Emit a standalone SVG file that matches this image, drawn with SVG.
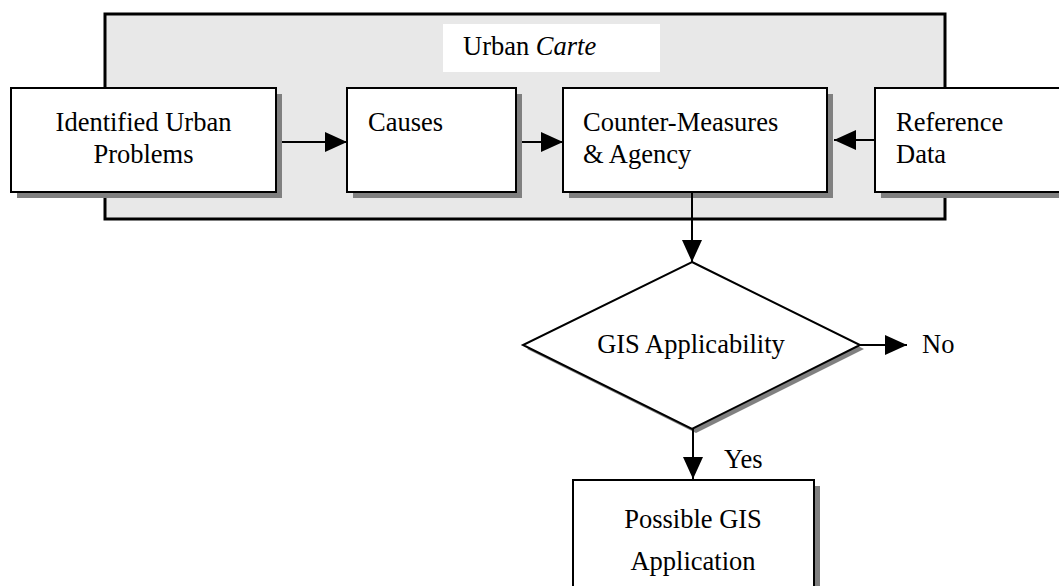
<svg xmlns="http://www.w3.org/2000/svg" width="1059" height="586" viewBox="0 0 1059 586">
<style>
text{font-family:"Liberation Serif","Times New Roman",serif;font-size:26.5px;fill:#000}
.box{fill:#fff;stroke:#000;stroke-width:2}
.sh{fill:#808080}
.ln{stroke:#000;stroke-width:2;fill:none}
</style>
<defs>
<marker id="ah" viewBox="0 0 22 20" refX="22" refY="10" markerWidth="22" markerHeight="20" markerUnits="userSpaceOnUse" orient="auto">
<path d="M0,0 L22,10 L0,20 Z" fill="#000"/>
</marker>
</defs>
<rect x="0" y="0" width="1059" height="586" fill="#fff"/>
<g id="container">
<rect x="105" y="14" width="840" height="205" fill="#e8e8e8" stroke="#000" stroke-width="3"/>
<rect x="443" y="24" width="217" height="48" fill="#fff"/>
<text x="463" y="55">Urban <tspan font-style="italic">Carte</tspan></text>
</g>
<g id="n1">
<rect class="sh" x="17" y="94" width="265" height="104"/>
<rect class="box" x="11" y="88" width="265" height="104"/>
<text x="143.5" y="131" text-anchor="middle">Identified Urban</text>
<text x="143.5" y="163" text-anchor="middle">Problems</text>
</g>
<g id="n2">
<rect class="sh" x="353" y="94" width="169" height="104"/>
<rect class="box" x="347" y="88" width="169" height="104"/>
<text x="368" y="131">Causes</text>
</g>
<g id="n3">
<rect class="sh" x="569" y="94" width="264" height="104"/>
<rect class="box" x="563" y="88" width="264" height="104"/>
<text x="583" y="131">Counter-Measures</text>
<text x="583" y="163">&amp; Agency</text>
</g>
<g id="n4">
<rect class="sh" x="881" y="94" width="190" height="104"/>
<rect class="box" x="875" y="88" width="190" height="104"/>
<text x="896" y="131">Reference</text>
<text x="896" y="163">Data</text>
</g>
<g id="n5">
<polygon points="696,266 864,349 696,433 527,349" fill="#808080"/>
<polygon points="692,262 860,345 692,429 523,345" fill="#fff" stroke="#000" stroke-width="2"/>
<text x="691" y="353" text-anchor="middle">GIS Applicability</text>
</g>
<g id="n6">
<rect class="sh" x="579" y="486" width="241" height="110"/>
<rect class="box" x="573" y="480" width="241" height="110"/>
<text x="693" y="528" text-anchor="middle">Possible GIS</text>
<text x="693" y="570" text-anchor="middle">Application</text>
</g>
<g id="connectors">
<line class="ln" x1="282" y1="142" x2="347" y2="142" marker-end="url(#ah)"/>
<line class="ln" x1="522" y1="142" x2="563" y2="142" marker-end="url(#ah)"/>
<line class="ln" x1="875" y1="140" x2="834" y2="140" marker-end="url(#ah)"/>
<line class="ln" x1="692" y1="192" x2="692" y2="262" marker-end="url(#ah)"/>
<line class="ln" x1="860" y1="345" x2="907" y2="345" marker-end="url(#ah)"/>
<line class="ln" x1="693" y1="429" x2="693" y2="479" marker-end="url(#ah)"/>
<text x="922" y="353">No</text>
<text x="724" y="468">Yes</text>
</g>
</svg>
